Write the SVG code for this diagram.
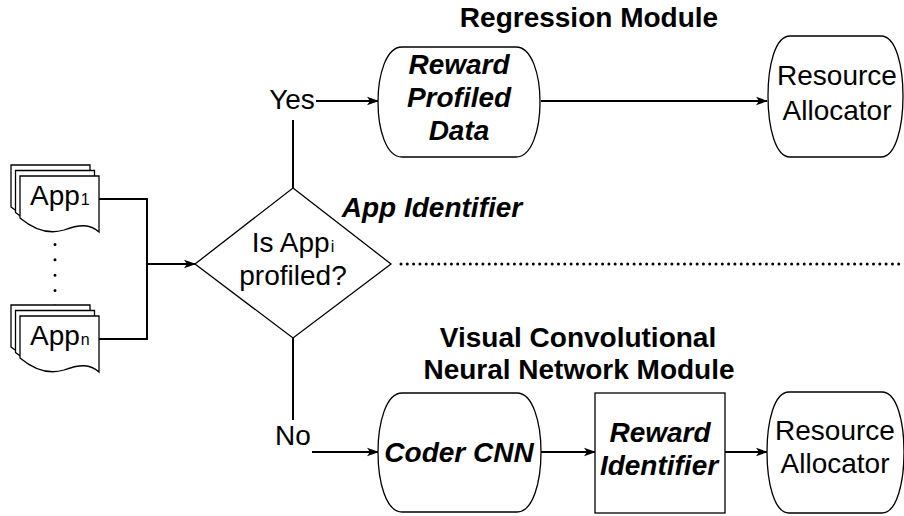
<svg xmlns="http://www.w3.org/2000/svg" width="904" height="516" viewBox="0 0 904 516">
<style>
  text { font-family: "Liberation Sans", Arial, sans-serif; fill: #000; }
  .t { font-size: 28px; text-anchor: middle; }
  .b { font-weight: bold; }
  .bi { font-weight: bold; font-style: italic; }
  .sub { font-size: 16px; }
  .shape { fill: #fff; stroke: #000; stroke-width: 1.3; }
  .conn { fill: none; stroke: #000; stroke-width: 2; }
  .dots { fill: none; stroke: #000; stroke-width: 3; stroke-linecap: round; }
</style>
<defs>
  <marker id="arr" viewBox="0 0 12 10" refX="11" refY="5" markerWidth="12" markerHeight="10" markerUnits="userSpaceOnUse" orient="auto">
    <path d="M0,0.8 L12,5 L0,9.2 L3,5 Z" fill="#000"/>
  </marker>
  <path id="doc" d="M0,0 H79 V56 C70,48 60,48 44,54 C28,59 12,52 0,42 Z"/>
</defs>

<g id="titles">
  <text class="t b" x="589" y="27">Regression Module</text>
  <text class="t bi" x="432" y="217">App Identifier</text>
  <text class="t b" x="578" y="347">Visual Convolutional</text>
  <text class="t b" x="579" y="379">Neural Network Module</text>
</g>

<g id="connectors">
  <polyline class="conn" points="99,199 147,199 147,339 99,339"/>
  <line class="conn" x1="147" y1="264" x2="195" y2="264" marker-end="url(#arr)"/>
  <line class="conn" x1="293" y1="188" x2="293" y2="120"/>
  <line class="conn" x1="316" y1="101" x2="378" y2="101" marker-end="url(#arr)"/>
  <line class="conn" x1="541" y1="101" x2="767" y2="101" marker-end="url(#arr)"/>
  <line class="conn" x1="293" y1="338" x2="293" y2="420"/>
  <line class="conn" x1="312" y1="452" x2="378" y2="452" marker-end="url(#arr)"/>
  <line class="conn" x1="541" y1="452" x2="595" y2="452" marker-end="url(#arr)"/>
  <line class="conn" x1="725" y1="452" x2="767" y2="452" marker-end="url(#arr)"/>
  <line class="dots" x1="55" y1="229" x2="55" y2="306" stroke-dasharray="0 15.4"/>
  <line class="dots" x1="401" y1="264" x2="904" y2="264" stroke-dasharray="0 6.3"/>
  <text class="t" x="292" y="109">Yes</text>
  <text class="t" x="293" y="445">No</text>
</g>

<g id="app1">
  <use href="#doc" class="shape" x="11" y="165"/>
  <use href="#doc" class="shape" x="15.5" y="170.5"/>
  <use href="#doc" class="shape" x="20" y="176"/>
  <text x="30" y="205" font-size="28">App<tspan class="sub" dx="1">1</tspan></text>
</g>

<g id="appn">
  <use href="#doc" class="shape" x="11" y="305"/>
  <use href="#doc" class="shape" x="15.5" y="310.5"/>
  <use href="#doc" class="shape" x="20" y="316"/>
  <text x="30" y="345" font-size="28">App<tspan class="sub" dx="1">n</tspan></text>
</g>

<g id="decision">
  <polygon class="shape" points="293,188 391,264 293,338 195,264"/>
  <text class="t" x="293" y="252">Is App<tspan class="sub" dx="1">i</tspan></text>
  <text class="t" x="293" y="285">profiled?</text>
</g>

<g id="reward-profiled">
  <path class="shape" d="M402,47 H516 C532,47 540,75 540,102 C540,129 532,157 516,157 H402 C386,157 378,129 378,102 C378,75 386,47 402,47 Z"/>
  <text class="t bi" x="459" y="74">Reward</text>
  <text class="t bi" x="459" y="107">Profiled</text>
  <text class="t bi" x="459" y="140">Data</text>
</g>

<g id="resource-top">
  <path class="shape" d="M790,36 H881 C896,36 903,66 903,96 C903,126 896,157 881,157 H790 C775,157 768,126 768,96 C768,66 775,36 790,36 Z"/>
  <text class="t" x="837" y="85">Resource</text>
  <text class="t" x="837" y="120">Allocator</text>
</g>

<g id="coder-cnn">
  <path class="shape" d="M402,393 H517 C533,393 541,423 541,452 C541,482 533,512 517,512 H402 C386,512 378,482 378,452 C378,423 386,393 402,393 Z"/>
  <text class="t bi" x="459" y="462">Coder CNN</text>
</g>

<g id="reward-identifier">
  <rect class="shape" x="595" y="393" width="130" height="120"/>
  <text class="t bi" x="660" y="442">Reward</text>
  <text class="t bi" x="659" y="475">Identifier</text>
</g>

<g id="resource-bottom">
  <path class="shape" d="M789,392 H882 C897,392 904,422 904,452 C904,482 897,513 882,513 H789 C774,513 767,482 767,452 C767,422 774,392 789,392 Z"/>
  <text class="t" x="835" y="440">Resource</text>
  <text class="t" x="835" y="473">Allocator</text>
</g>
</svg>
